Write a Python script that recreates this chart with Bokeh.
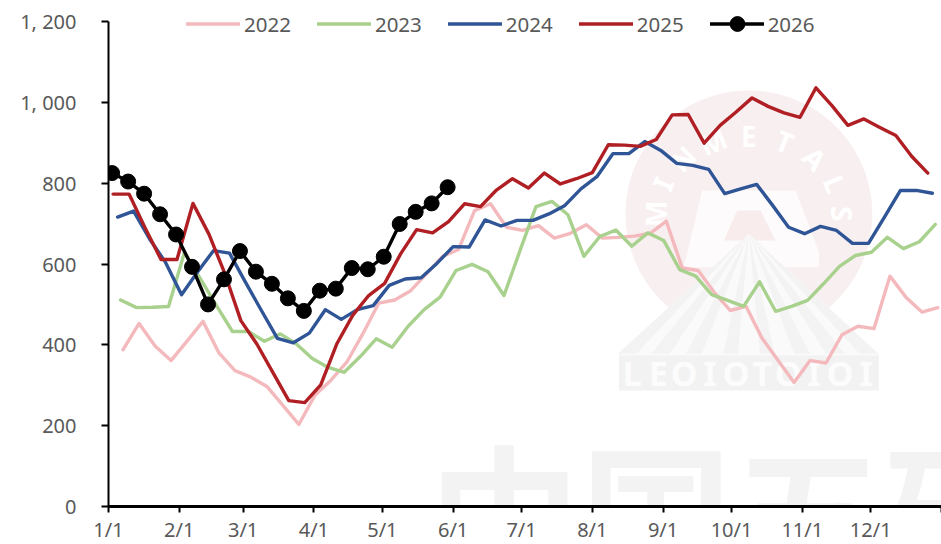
import numpy as np
from bokeh.embed import file_html
from bokeh.resources import INLINE
from bokeh.plotting import figure
from bokeh.models import FixedTicker, Legend, LegendItem, Label

# ---------- data ----------
years = ["2022", "2023", "2024", "2025", "2026"]
colors = ["#F4B9BC", "#A9D18E", "#2F5597", "#B01F24", "#000000"]
first_day = [6.4, 5.3, 4.0, 2.0, 1.6]
v2022 = [388, 453, 397, 361, 409, 458, 380, 336, 320, 297, 250, 203, 275, 312, 357, 427, 503, 511, 534, 576, 619, 636, 732,
         749, 691, 683, 695, 664, 676, 697, 664, 666, 669, 676, 706, 590, 584, 530, 485, 495, 416, 361, 307, 361, 355, 425,
         446, 440, 570, 518, 481, 492]
v2023 = [511, 492, 493, 495, 629, 563, 497, 433, 433, 409, 427, 402, 366, 344, 332, 371, 415, 394, 446, 487, 518, 584, 599, 581,
         522, 633, 742, 755, 722, 619, 668, 684, 644, 677, 658, 586, 570, 524, 510, 495, 556, 483, 495, 510, 551, 594,
         621, 629, 666, 638, 655, 698]
v2024 = [716, 731, 662, 604, 524, 580, 633, 627, 555, 485, 416, 405, 429, 487, 463, 487, 497, 547, 563, 566, 602, 643, 642, 709,
         694, 708, 708, 724, 745, 786, 816, 873, 873, 903, 881, 849, 844, 834, 774, 786, 797, 745, 691, 675, 693, 683,
         651, 651, 716, 782, 782, 775]
v2025 = [773, 773, 690, 611, 611, 750, 674, 576, 460, 402, 332, 262, 257, 301, 402, 473, 522, 552, 625, 685, 677, 705, 749, 742,
         783, 811, 788, 825, 798, 811, 826, 895, 894, 891, 908, 969, 970, 899, 943, 976, 1011, 990, 974, 963, 1036, 992,
         943, 959, 938, 918, 866, 825]
v2026 = [825, 804, 774, 723, 673, 593, 500, 562, 632, 581, 551, 515, 484, 534, 539, 590, 587, 618, 699, 729, 750, 790]
series = [v2022, v2023, v2024, v2025, v2026]
month_days = [0, 31, 59, 90, 120, 151, 181, 212, 243, 273, 304, 334, 365]
month_labels = ["1/1", "2/1", "3/1", "4/1", "5/1", "6/1", "7/1", "8/1", "9/1", "10/1", "11/1", "12/1", ""]
y_ticks = [0, 200, 400, 600, 800, 1000, 1200]
y_labels = ["0", "200", "400", "600", "800", "1, 000", "1, 200"]

TEXT = "#595959"
FONT = "Noto Sans"

# the frame reaches the top of the canvas so that the legend above the 1,200 tick is not clipped
p = figure(width=941, height=544, frame_width=833, frame_height=506, x_range=(0, 365), y_range=(0, 1200 * 506 / 485),
           output_backend="svg", toolbar_location=None, min_border_left=108, min_border_right=0,
           min_border_top=0, min_border_bottom=38)
p.grid.visible = False
p.outline_line_color = None

# ---------- watermark (decoration behind the chart) ----------
def dx(px):
    return (np.asarray(px, float) - 108) / 2.282
def dy(py):
    return (506 - np.asarray(py, float)) * 1200 / 485
def zx(z):
    return 480 + np.asarray(z, float) / 3
def zy(z):
    return 70 + np.asarray(z, float) / 3
def wm(xs, ys, color):
    p.patch(dx(zx(xs)), dy(zy(ys)), fill_color=color, line_color=None, level="underlay")

t = np.linspace(0, 2 * np.pi, 120)
wm(805 + 370 * np.cos(t), 430 + 370 * np.sin(t), "#F8EFF0")
wm([665, 945, 1015, 1015, 610], [360, 360, 545, 590, 590], "#FDFBFB")
wm([730, 770, 840, 885], [510, 420, 420, 510], "#F8ECEC")
wm([805, 1195, 1195, 415, 415], [490, 850, 860, 860, 850], "#FBFAFA")
for base, w in [(440, 28), (540, 28), (640, 24), (750, 22), (860, 22), (965, 24), (1065, 28), (1165, 28)]:
    wm([805, base + w, base - w], [490, 850, 850], "#F4F3F3")
wm([415, 1195, 1195, 415], [855, 855, 960, 960], "#F2F2F2")

for i, ch in enumerate("MINMETALS"):
    a = np.pi - i * np.pi / 8
    p.add_layout(Label(x=float(dx(zx(805 + 280 * np.cos(a)))), y=float(dy(zy(430 - 235 * np.sin(a)))), text=ch,
                       angle=np.degrees(a) - 90, angle_units="deg", text_color="#FFFFFF", text_font=FONT,
                       text_font_style="bold", text_font_size="28px", text_align="center",
                       text_baseline="middle", level="underlay"))
for i, ch in enumerate("LEOIOTOIOI"):
    p.add_layout(Label(x=float(dx(zx(455 + i * 78))), y=float(dy(zy(908))), text=ch, text_color="#FCFCFC", text_font=FONT,
                       text_font_style="bold", text_font_size="34px", text_align="center", text_baseline="middle",
                       level="underlay"))
p.renderers.append(Label(x=float(dx(428)), y=float(dy(398)), text="中国五矿", text_color="#F3F3F3",
                         text_font="Noto Sans CJK SC", text_font_style="bold", text_font_size="152px",
                         text_align="left", text_baseline="top", level="glyph"))

# ---------- series ----------
items = []
for name, col, start, vals in zip(years, colors, first_day, series):
    xs = start + 7.0 * np.arange(len(vals))
    r = p.line(xs, vals, line_color=col, line_width=3.4, line_join="round", line_cap="round")
    rs = [r]
    if name == "2026":
        rs.append(p.scatter(xs, vals, size=15, marker="circle", fill_color=col, line_color=col))
    items.append(LegendItem(label=name, renderers=rs))

legend = Legend(items=items, orientation="horizontal", location=(78, 464), margin=0, padding=0,
                spacing=26, glyph_width=54, glyph_height=37, label_standoff=4, label_height=22,
                background_fill_alpha=0, border_line_alpha=0, label_text_color=TEXT,
                label_text_font=FONT, label_text_font_size="20.5px")
p.add_layout(legend)

# ---------- axes ----------
xa, ya = p.xaxis[0], p.yaxis[0]
xa.ticker = FixedTicker(ticks=month_days)
xa.major_label_overrides = dict(zip(month_days, month_labels))
ya.ticker = FixedTicker(ticks=y_ticks)
ya.major_label_overrides = dict(zip(y_ticks, y_labels))
ya.bounds = (0, 1200)
for ax in (xa, ya):
    ax.axis_line_color = "#000000"
    ax.major_tick_line_color = "#000000"
    ax.minor_tick_line_color = None
    ax.major_tick_in = 0
    ax.major_tick_line_width = 2
    ax.major_label_text_color = TEXT
    ax.major_label_text_font = FONT
    ax.major_label_text_font_size = "20px"
xa.axis_line_width = 3
xa.major_tick_out = 6
xa.major_label_standoff = 3
ya.axis_line_width = 2
ya.major_tick_out = 7
ya.major_label_standoff = 25

open("out.html", "w").write(file_html(p, INLINE))
